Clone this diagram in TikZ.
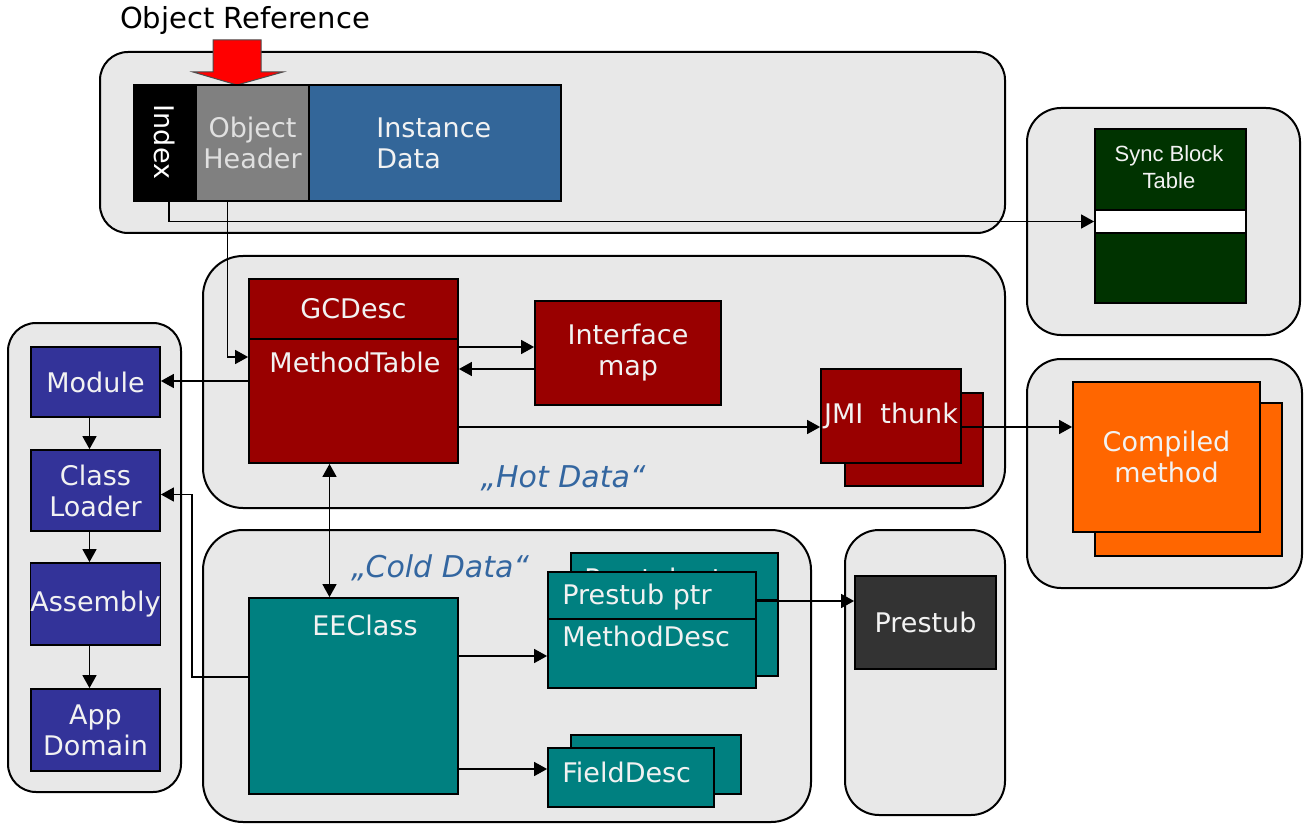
\documentclass[tikz,border=0pt]{standalone}
\usepackage{fontspec}
\setmainfont{DejaVu Sans}
\newfontfamily\arialfont{Liberation Sans}
\usetikzlibrary{arrows.meta}

\definecolor{panelgray}{HTML}{E8E8E8}
\definecolor{instblue}{HTML}{336699}
\definecolor{hdrgray}{HTML}{808080}
\definecolor{hdrtext}{HTML}{E0E0E0}
\definecolor{syncgreen}{HTML}{003300}
\definecolor{hotred}{HTML}{990000}
\definecolor{coldteal}{HTML}{008080}
\definecolor{loaderblue}{HTML}{333399}
\definecolor{jitorange}{HTML}{FF6600}
\definecolor{stubgray}{HTML}{333333}
\definecolor{boxtext}{HTML}{F2F2F2}
\definecolor{notetext}{HTML}{3366A0}

\begin{document}
\begin{tikzpicture}[x=0.5pt, y=-0.5pt,
    panel/.style={draw=black, line width=1pt, fill=panelgray, rounded corners=14pt},
    blk/.style={draw=black, line width=0.9pt, inner sep=0pt, text=boxtext,
        font=\fontsize{13.5}{15.5}\selectfont, align=center},
    boxlbl/.style={inner sep=0pt, text=boxtext, font=\fontsize{13.5}{15.5}\selectfont, align=left},
    note/.style={text=notetext, font=\fontsize{15}{18}\selectfont\itshape},
    arr/.style={line width=0.75pt, -{Triangle[length=6.5pt,width=7pt]}},
    arrs/.style={line width=0.75pt, {Triangle[length=6.5pt,width=7pt]}-{Triangle[length=6.5pt,width=7pt]}}]
    \useasboundingbox (0,0) rectangle (1309,823);

    % grey panels
    \node[panel, minimum width=452.5pt, minimum height=90.5pt] (objpanel) at (552.5,142.5) {};
    \node[panel, rounded corners=17pt, minimum width=136.5pt, minimum height=113.5pt] (syncpanel) at (1163.5,221.5) {};
    \node[panel, rounded corners=20pt, minimum width=401pt, minimum height=126pt] (hotpanel) at (604,382) {};
    \node[panel, rounded corners=17pt, minimum width=137.5pt, minimum height=114.5pt] (jitpanel) at (1164.5,473.5) {};
    \node[panel, minimum width=86.5pt, minimum height=234.5pt] (loadpanel) at (94.5,557.5) {};
    \node[panel, rounded corners=20pt, minimum width=304pt, minimum height=146pt] (coldpanel) at (507,676) {};
    \node[panel, rounded corners=17pt, minimum width=80pt, minimum height=142.5pt] (stubpanel) at (925,672.5) {};

    % object on the heap
    \node[font=\fontsize{14.5}{17}\selectfont] (objref) at (245,21) {Object Reference};
    \draw[fill=red, draw=black!70, line width=0.5pt]
        (213,40) -- (261,40) -- (261,72) -- (283,72) -- (237,85) -- (193,72) -- (213,72) -- cycle;
    \node[blk, fill=black, minimum width=31pt, minimum height=58pt] (idx) at (165,143) {};
    \node[boxlbl, text=white, rotate=-90] (idxtxt) at (165,142) {Index};
    \node[blk, fill=hdrgray, text=hdrtext, minimum width=56.5pt, minimum height=58pt] (hdr) at (252.5,143) {Object\\Header};
    \node[blk, fill=instblue, minimum width=126pt, minimum height=58pt] (inst) at (435,143) {};
    \node[boxlbl, anchor=west] (insttxt) at (376,143) {Instance\\Data};

    % sync block table
    \node[blk, fill=syncgreen, minimum width=75.5pt, minimum height=87pt] (sbt) at (1170.5,216) {};
    \node[boxlbl, align=center, font=\arialfont\fontsize{11}{13.5}\selectfont] (sbttxt) at (1169,167) {Sync Block\\Table};
    \node[blk, fill=white, minimum width=75.5pt, minimum height=11.5pt] (slot) at (1170.5,221.5) {};

    % hot data
    \node[blk, fill=hotred, minimum width=104.5pt, minimum height=30pt] (gcd) at (353.5,309) {GCDesc};
    \node[blk, fill=hotred, minimum width=104.5pt, minimum height=62pt] (mt) at (353.5,401) {};
    \node[boxlbl] (mttxt) at (355,362) {MethodTable};
    \node[blk, fill=hotred, minimum width=93pt, minimum height=52pt] (ifm) at (628,353) {Interface\\map};
    \node[blk, fill=hotred, minimum width=69pt, minimum height=46.5pt] (jmib) at (914,439.5) {};
    \node[blk, fill=hotred, minimum width=70pt, minimum height=47pt] (jmi) at (891,416) {JMI\ \ thunk};
    \node[note] (hotnote) at (563,478) {„Hot Data“};

    % compiled code
    \node[blk, fill=jitorange, minimum width=93.5pt, minimum height=76.5pt] (cmpb) at (1188.5,479.5) {};
    \node[blk, fill=jitorange, minimum width=93.5pt, minimum height=75pt] (cmp) at (1166.5,457) {Compiled\\method};

    % loader chain
    \node[blk, fill=loaderblue, minimum width=64.5pt, minimum height=35pt] (mod) at (95.5,382) {Module};
    \node[blk, fill=loaderblue, minimum width=64.5pt, minimum height=40.5pt] (cl) at (95.5,490.5) {Class\\Loader};
    \node[blk, fill=loaderblue, minimum width=64.5pt, minimum height=41pt] (asm) at (95.5,604) {Assembly};
    \node[blk, fill=loaderblue, minimum width=64.5pt, minimum height=41pt] (ad) at (95.5,730) {App\\Domain};

    % cold data
    \node[note] (coldnote) at (440,568) {„Cold Data“};
    \node[blk, fill=coldteal, minimum width=104.5pt, minimum height=98pt] (eec) at (353.5,696) {};
    \node[boxlbl] (eectxt) at (365,625) {EEClass};
    % method descs, one behind the other
    \node[blk, fill=coldteal, minimum width=103.5pt, minimum height=61.5pt] (mdb) at (674.5,614.5) {};
    \draw[line width=0.9pt] (mdb.west |- 0,600) -- (mdb.east |- 0,600);
    \node[boxlbl, anchor=west] (mdbtxt) at (584,581) {Prestub ptr};
    \node[blk, fill=coldteal, minimum width=104pt, minimum height=23.5pt] (psp) at (652,595.5) {};
    \node[boxlbl, anchor=west] (psptxt) at (562,597) {Prestub ptr};
    \node[blk, fill=coldteal, minimum width=104pt, minimum height=34.5pt] (mdd) at (652,653.5) {};
    \node[boxlbl, anchor=west] (mddtxt) at (562,636) {MethodDesc};
    % field descs
    \node[blk, fill=coldteal, minimum width=85pt, minimum height=29.5pt] (fdb) at (656,764.5) {};
    \node[blk, fill=coldteal, minimum width=83pt, minimum height=29.5pt] (fd) at (631,777.5) {};
    \node[boxlbl, anchor=west] (fdtxt) at (562,772) {FieldDesc};

    % prestub
    \node[blk, fill=stubgray, minimum width=70.5pt, minimum height=46.5pt] (pst) at (925.5,622.5) {Prestub};

    % pointers
    \draw[arr] ([xshift=2pt]idx.south) |- (slot.west);
    \draw[arr] ([xshift=-12.5pt]hdr.south) |- ([yshift=22pt]mt.west);
    \draw[arr] ([yshift=10pt]mt.west) -- ([yshift=10pt]mt.west -| mod.east);
    \draw[arr] ([yshift=27pt]mt.east) -- ([yshift=27pt]mt.east -| ifm.west);
    \draw[arr] ([yshift=-8pt]ifm.west) -- ([yshift=-8pt]ifm.west -| mt.east);
    \draw[arr] ([yshift=-13pt]mt.east) -- ([yshift=-13pt]mt.east -| jmi.west);
    \draw[arr] ([yshift=-5.5pt]jmi.east) -- ([yshift=-5.5pt]jmi.east -| cmp.west);
    \draw[arrs] ([xshift=-12pt]mt.south) -- ([xshift=-12pt]mt.south |- eec.north);
    \draw[arr] ([yshift=9.5pt]eec.west) -- ++(-28pt,0) |- ([yshift=-2pt]cl.east);
    \draw[arr] ([yshift=20pt]eec.east) -- ([yshift=20pt]eec.east -| mdd.west);
    \draw[arr] ([yshift=-36.5pt]eec.east) -- ([yshift=-36.5pt]eec.east -| fd.west);
    \draw[arr] ([yshift=-2.75pt]psp.east) -- ([yshift=-2.75pt]psp.east -| pst.west);
    \draw[arr] ([xshift=-3pt]mod.south) -- ([xshift=-3pt]cl.north);
    \draw[arr] ([xshift=-3pt]cl.south) -- ([xshift=-3pt]asm.north);
    \draw[arr] ([xshift=-3pt]asm.south) -- ([xshift=-3pt]ad.north);
\end{tikzpicture}
\end{document}
